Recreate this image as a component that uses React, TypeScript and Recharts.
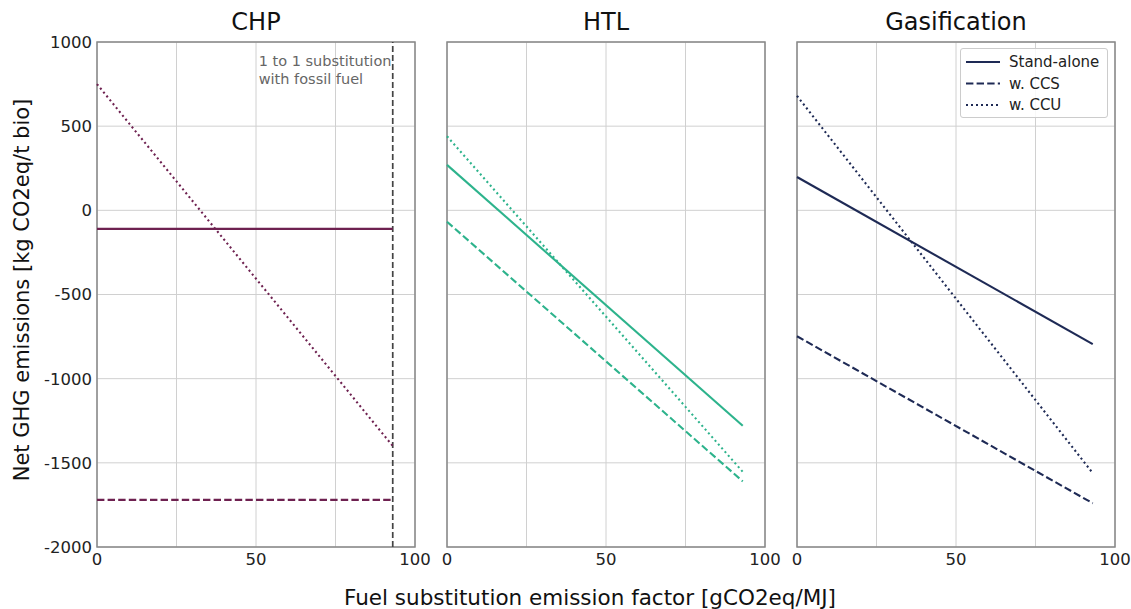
import React from "react";
import { LineChart, Line, XAxis, YAxis, CartesianGrid, ReferenceLine, ReferenceArea } from "recharts";

const xValues = [0, 93];
const xTicks = [0, 25, 50, 75, 100];
const yTicks = [-2000, -1500, -1000, -500, 0, 500, 1000];
const panelTitles = ["CHP", "HTL", "Gasification"];
const seriesNames = ["Stand-alone", "w. CCS", "w. CCU"];
const fossilSubstitutionX = 93;

const chpStandalone = [-110, -110];
const chpCCS = [-1720, -1720];
const chpCCU = [750, -1400];

const htlStandalone = [270, -1280];
const htlCCS = [-68, -1610];
const htlCCU = [440, -1553];

const gasStandalone = [198, -795];
const gasCCS = [-748, -1740];
const gasCCU = [680, -1561];

const colors = ["#6e2150", "#2db38c", "#1e2a55"];
const FONT = "'DejaVu Sans', sans-serif";

function build(a: number[], b: number[], c: number[]) {
  return xValues.map((x, i) => ({ x, sa: a[i], ccs: b[i], ccu: c[i] }));
}

const panels = [
  build(chpStandalone, chpCCS, chpCCU),
  build(htlStandalone, htlCCS, htlCCU),
  build(gasStandalone, gasCCS, gasCCU),
];

const DASH = "7.4 3.2";
const DOT = "2 3";

const SubLabel = (props: any) => {
  const vb = props.viewBox || {};
  const x = vb.x - 134;
  const y = vb.y;
  return (
    <text x={x} y={y} textAnchor="start" fill="#666" fontSize={14.5} fontFamily={FONT}>
      <tspan x={x} dy={24}>1 to 1 substitution</tspan>
      <tspan x={x} dy={18}>with fossil fuel</tspan>
    </text>
  );
};

function Panel({ idx, plotLeft }: { idx: number; plotLeft: number }) {
  const first = idx === 0;
  const yW = first ? 97 : 0;
  const padL = first ? 0 : 16;
  const width = padL + yW + 318 + 30;
  const color = colors[idx];
  return (
    <div style={{ position: "absolute", left: plotLeft - yW - padL, top: 0 }}>
      <LineChart
        width={width}
        height={609}
        data={panels[idx]}
        margin={{ top: 42, right: 30, left: padL, bottom: 32 }}
      >
        <CartesianGrid stroke="#d0d0d0" strokeWidth={1} />
        <XAxis
          dataKey="x"
          type="number"
          domain={[0, 100]}
          ticks={xTicks}
          tickFormatter={(v: number) => (v % 50 === 0 ? String(v) : "")}
          axisLine={false}
          tickLine={false}
          tickSize={0}
          height={30}
          tick={{ fill: "#222", fontSize: 16.5, fontFamily: FONT }}
          tickMargin={6}
          interval={0}
        />
        <YAxis
          type="number"
          domain={[-2000, 1000]}
          ticks={yTicks}
          hide={!first}
          width={yW}
          axisLine={false}
          tickLine={false}
          tickSize={0}
          tick={{ fill: "#222", fontSize: 16.5, fontFamily: FONT }}
          tickMargin={5}
          interval={0}
        />
        <ReferenceArea x1={0} x2={100} y1={-2000} y2={1000} fill="none" stroke="#888" strokeWidth={1.5} />
        {first && (
          <ReferenceLine
            x={fossilSubstitutionX}
            stroke="#444"
            strokeWidth={1.7}
            strokeDasharray="6 3"
            label={<SubLabel />}
          />
        )}
        <Line dataKey="sa" stroke={color} strokeWidth={2.1} dot={false} isAnimationActive={false} />
        <Line dataKey="ccs" stroke={color} strokeWidth={2.1} strokeDasharray={DASH} dot={false} isAnimationActive={false} />
        <Line dataKey="ccu" stroke={color} strokeWidth={2.1} strokeDasharray={DOT} dot={false} isAnimationActive={false} />
      </LineChart>
    </div>
  );
}

function LegendBox() {
  const dashes = [undefined, DASH, DOT];
  return (
    <div
      style={{
        position: "absolute",
        left: 960,
        top: 48,
        width: 148,
        height: 70,
        border: "1px solid #ccc",
        borderRadius: 3,
        background: "rgba(255,255,255,0.85)",
        boxSizing: "border-box",
      }}
    >
      <svg width={146} height={68}>
        {seriesNames.map((n, i) => (
          <g key={n}>
            <line x1={5} x2={39} y1={13 + i * 21.5} y2={13 + i * 21.5} stroke={colors[2]} strokeWidth={2} strokeDasharray={dashes[i]} />
            <text x={48} y={13 + i * 21.5} dy="0.35em" fontSize={15} fontFamily={FONT} fill="#222">{n}</text>
          </g>
        ))}
      </svg>
    </div>
  );
}

export default function App() {
  const plotLefts = [97, 447, 797];
  return (
    <div style={{ position: "absolute", left: 0, top: 0, width: 1131, height: 609, background: "#fff", fontFamily: FONT, overflow: "hidden" }}>
      <Panel idx={0} plotLeft={97} />
      <Panel idx={1} plotLeft={447} />
      <Panel idx={2} plotLeft={797} />
      {panelTitles.map((t, i) => (
        <div
          key={t}
          style={{
            position: "absolute",
            left: plotLefts[i],
            width: 318,
            top: 7,
            textAlign: "center",
            fontSize: 24,
            color: "#111",
            lineHeight: "30px",
          }}
        >
          {t}
        </div>
      ))}
      <LegendBox />
      <div
        style={{
          position: "absolute",
          left: 290,
          width: 600,
          top: 584,
          textAlign: "center",
          fontSize: 21.5,
          color: "#111",
          lineHeight: "28px",
        }}
      >
        Fuel substitution emission factor [gCO2eq/MJ]
      </div>
      <div
        style={{
          position: "absolute",
          left: 22 - 250,
          top: 290 - 14,
          width: 500,
          textAlign: "center",
          fontSize: 21,
          color: "#111",
          lineHeight: "28px",
          transform: "rotate(-90deg)",
        }}
      >
        Net GHG emissions [kg CO2eq/t bio]
      </div>
    </div>
  );
}
